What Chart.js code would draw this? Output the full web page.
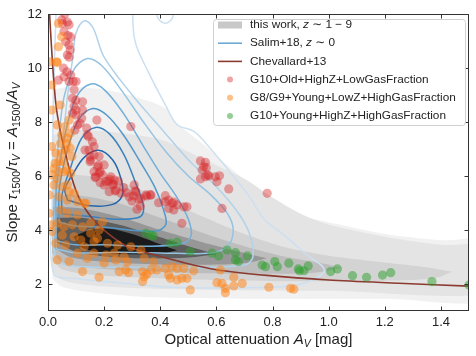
<!DOCTYPE html>
<html>
<head>
<meta charset="utf-8">
<script src="https://cdn.jsdelivr.net/npm/chart.js@4.4.1/dist/chart.umd.min.js"></script>
<style>
  html, body { margin: 0; padding: 0; background: #fff; }
</style>
</head>
<body>
<canvas id="myChart" width="476" height="356"></canvas>
<script>
// axis ticks
const xTicks = [0, 0.2, 0.4, 0.6, 0.8, 1.0, 1.2, 1.4];
const yTicks = [2, 4, 6, 8, 10, 12];

// "this work" density levels, outer -> inner (upper and lower edges)
const grayUpper = [
  [[0.015,9.2],[0.08,9.3],[0.2,9.2],[0.32,8.9],[0.42,8.5],[0.46,7.95],[0.55,7.2],[0.65,6.3],[0.79,5.1],[0.9,4.55],[1.04,4.2],[1.2,3.85],[1.4,3.62],[1.6,3.55]],
  [[0.015,7.5],[0.1,7.7],[0.25,7.6],[0.4,7.35],[0.5,6.9],[0.6,6.4],[0.7,5.9],[0.8,5.2],[0.9,4.6],[1.0,4.2],[1.2,3.75],[1.4,3.45],[1.6,3.35]],
  [[0.015,6.0],[0.1,6.05],[0.25,5.8],[0.4,5.2],[0.55,4.5],[0.7,3.85],[0.85,3.35],[1.0,3.05],[1.2,2.8],[1.35,2.62],[1.44,2.45]],
  [[0.015,5.3],[0.1,5.3],[0.25,5.0],[0.4,4.45],[0.55,3.9],[0.7,3.4],[0.85,3.0],[0.97,2.78],[1.05,2.6]],
  [[0.02,4.85],[0.12,4.8],[0.25,4.5],[0.4,4.0],[0.55,3.55],[0.68,3.2],[0.78,2.95]],
  [[0.03,4.45],[0.12,4.45],[0.25,4.2],[0.38,3.8],[0.5,3.4],[0.6,3.1]],
  [[0.09,3.75],[0.15,4.0],[0.22,4.05],[0.3,3.85],[0.38,3.55],[0.46,3.25]]
];
const grayLower = [
  [[0.015,2.2],[0.05,1.9],[0.15,1.7],[0.3,1.55],[0.5,1.48],[0.8,1.45],[1.2,1.45],[1.6,1.45]],
  [[0.015,2.5],[0.05,2.15],[0.15,1.95],[0.3,1.85],[0.6,1.78],[1.0,1.75],[1.6,1.72]],
  [[0.015,2.9],[0.05,2.55],[0.15,2.35],[0.3,2.25],[0.6,2.15],[0.9,2.1],[1.2,2.12],[1.38,2.22],[1.44,2.45]],
  [[0.015,3.15],[0.05,2.8],[0.15,2.6],[0.3,2.5],[0.55,2.4],[0.8,2.38],[0.95,2.42],[1.05,2.6]],
  [[0.02,3.35],[0.08,3.0],[0.2,2.82],[0.4,2.72],[0.6,2.72],[0.72,2.8],[0.78,2.95]],
  [[0.03,3.55],[0.1,3.2],[0.2,3.02],[0.35,2.95],[0.5,2.98],[0.6,3.1]],
  [[0.09,3.75],[0.12,3.35],[0.2,3.15],[0.3,3.1],[0.4,3.12],[0.46,3.25]]
];

// Salim+18 contours, outer -> inner (closed loops)
const salimContours = [
  [[0.03,12.5],[0.02,9],[0.015,5],[0.02,2.4],[0.1,2.2],[0.3,2.0],[0.4,1.9],[0.6,1.85],[0.78,1.88],[0.9,2.0],[0.985,2.5],[0.92,3.1],[0.83,3.9],[0.77,4.4],[0.72,5.2],[0.66,6.0],[0.58,7.0],[0.52,7.65],[0.46,7.9],[0.42,8.6],[0.36,9.8],[0.31,11],[0.3,12.5]],
  [[0.385,12.5],[0.39,11.9],[0.41,11.68],[0.43,11.7],[0.445,11.9],[0.45,12.5]],
  [[0.03,2.8],[0.02,3.5],[0.03,5],[0.05,7],[0.07,9],[0.09,10.5],[0.1,11.3],[0.13,11.75],[0.16,11.5],[0.2,10.4],[0.3,9.0],[0.4,7.8],[0.5,6.6],[0.6,5.6],[0.68,4.6],[0.72,3.8],[0.73,3.0],[0.7,2.7],[0.5,2.6],[0.3,2.62],[0.1,2.65],[0.03,2.8]],
  [[0.03,3.3],[0.025,5],[0.05,8.5],[0.09,9.9],[0.14,10.35],[0.19,10.1],[0.26,9.2],[0.34,8.0],[0.42,6.9],[0.5,6.0],[0.58,5.3],[0.64,4.6],[0.66,4.0],[0.64,3.4],[0.58,3.15],[0.4,3.15],[0.25,3.18],[0.1,3.15],[0.03,3.3]],
  [[0.03,3.6],[0.03,5.5],[0.06,7.5],[0.1,8.9],[0.15,9.4],[0.2,9.2],[0.27,8.3],[0.34,7.1],[0.4,6.1],[0.46,5.2],[0.5,4.4],[0.51,3.8],[0.48,3.5],[0.35,3.4],[0.2,3.45],[0.1,3.45],[0.03,3.6]],
  [[0.04,4.3],[0.04,5.5],[0.07,7.0],[0.11,8.1],[0.16,8.5],[0.21,8.25],[0.27,7.5],[0.33,6.5],[0.38,5.6],[0.41,4.8],[0.42,4.2],[0.38,3.95],[0.2,4.1],[0.1,4.15],[0.04,4.3]],
  [[0.05,4.6],[0.05,5.3],[0.08,6.3],[0.12,7.4],[0.17,7.8],[0.22,7.55],[0.27,6.8],[0.31,5.8],[0.34,4.9],[0.33,4.5],[0.25,4.4],[0.15,4.5],[0.05,4.6]],
  [[0.07,5.1],[0.06,5.5],[0.09,6.1],[0.13,6.7],[0.18,6.95],[0.23,6.6],[0.26,5.9],[0.265,5.3],[0.23,4.95],[0.15,4.9],[0.07,5.1]]
];

// Chevallard+13 relation
const chevX = [0.003,0.01,0.02,0.03,0.045,0.063,0.08,0.1,0.12,0.16,0.21,0.28,0.38,0.48,0.6,0.78,1.0,1.25,1.5];
const chevY = [12.5,11.2,9.6,8.5,7.6,6.8,6.1,5.45,5.0,4.4,3.9,3.4,3.08,2.8,2.53,2.32,2.15,2.03,1.92];

// galaxy samples [A_V, slope]
const oldHighZ = [
  [0.060,12.0],[0.069,11.7],[0.051,11.65],[0.075,11.6],[0.049,11.78],[0.057,11.35],[0.071,11.2],[0.081,11.15],
  [0.063,10.97],[0.075,10.85],[0.079,10.67],[0.069,10.48],[0.075,10.4],[0.055,10.0],[0.067,9.86],[0.081,9.74],
  [0.057,9.68],[0.037,9.55],[0.09,9.5],[0.075,9.5],[0.1,9.5],[0.093,9.19],[0.087,8.88],[0.099,8.81],[0.123,8.75],
  [0.093,8.58],[0.1,8.44],[0.087,8.32],[0.099,8.26],[0.123,8.44],[0.12,8.14],[0.114,7.95],[0.105,7.89],[0.096,7.7],
  [0.138,7.77],[0.174,8.07],[0.295,7.83],[0.14,7.52],[0.144,7.46],[0.158,7.27],[0.164,7.09],[0.132,6.96],[0.146,6.96],
  [0.164,6.78],[0.15,6.72],[0.182,6.72],[0.152,6.59],[0.15,6.53],[0.18,6.4],[0.2,6.41],[0.176,6.34],[0.186,6.16],
  [0.164,6.16],[0.182,6.1],[0.194,6.04],[0.17,5.97],[0.224,5.97],[0.168,5.94],[0.236,5.85],[0.22,5.88],[0.215,5.81],
  [0.251,5.81],[0.206,5.79],[0.186,5.75],[0.23,5.67],[0.2,5.67],[0.233,5.69],[0.269,5.57],[0.242,5.48],[0.218,5.42],
  [0.239,5.44],[0.26,5.36],[0.281,5.38],[0.307,5.67],[0.313,5.42],[0.311,5.44],[0.289,5.23],[0.305,5.26],[0.331,5.17],
  [0.349,5.3],[0.367,5.3],[0.352,5.26],[0.323,5.14],[0.299,5.07],[0.329,4.89],[0.317,4.77],
  [0.543,6.56],[0.561,6.51],[0.555,6.34],[0.564,6.31],[0.549,6.22],[0.569,6.04],[0.561,5.97],[0.543,5.89],
  [0.596,5.97],[0.611,6.01],[0.602,5.79],[0.573,6.0],[0.644,5.52],[0.781,5.36],
  [0.418,5.27],[0.43,5.11],[0.448,5.03],[0.364,5.3],[0.418,5.05],[0.442,4.99],[0.46,4.93],[0.484,4.86],
  [0.43,4.8],[0.448,4.74],[0.495,4.86],[0.62,4.8],[0.477,4.25],[0.394,5.01]
];
const youngLowZ = [
  [0.007,10.23],[0.031,10.23],[0.033,10.2],[0.037,11.65],[0.049,11.16],[0.037,10.79],[0.013,9.37],[0.013,8.44],
  [0.043,8.63],[0.079,7.58],[0.049,7.52],[0.061,7.83],[0.067,7.21],[0.013,7.09],[0.079,7.03],[0.049,6.84],[0.025,6.47],
  [0.055,6.53],[0.085,6.72],[0.067,6.22],[0.037,6.16],[0.013,6.04],
  [0.033,7.89],[0.075,8.07],[0.069,7.4],[0.045,7.21],[0.028,6.84],[0.063,6.96],[0.039,6.53],[0.021,6.28],[0.057,6.16],
  [0.081,6.1],[0.033,5.91],[0.021,5.67],[0.051,5.6],[0.069,5.67],[0.075,5.42],[0.004,5.3],[0.039,5.23],[0.069,5.11],
  [0.093,5.36],[0.105,5.05],[0.129,4.99],
  [0.004,4.62],[0.045,4.74],[0.069,4.62],[0.105,4.56],[0.135,4.99],[0.01,4.19],[0.033,4.25],[0.057,4.12],[0.087,4.19],
  [0.123,4.12],[0.152,4.25],[0.182,4.0],[0.194,4.31],[0.015,3.94],[0.051,3.81],[0.093,3.75],[0.152,3.88],[0.176,3.69],
  [0.117,3.63],[0.028,3.51],[0.063,3.44],[0.129,3.38],[0.164,3.57],[0.212,3.51],[0.248,3.44],[0.295,3.38],[0.236,3.14],
  [0.164,3.14],[0.105,3.14],[0.206,3.07],[0.271,3.01],[0.331,3.26],[0.343,2.95],[0.14,2.95],[0.033,2.89],[0.075,2.83],
  [0.2,2.77],[0.242,2.89],[0.283,2.83],[0.277,2.52],[0.254,2.46],[0.123,2.46],[0.182,2.25],[0.337,2.46],[0.343,2.27],
  [0.367,2.52],[0.337,2.09],[0.287,2.42],[0.352,2.36],
  [0.376,2.83],[0.388,2.52],[0.418,2.58],[0.43,2.33],[0.442,2.64],[0.46,2.58],[0.484,2.58],[0.46,2.15],[0.477,2.21],
  [0.436,2.21],[0.495,2.21],[0.519,2.49],[0.507,1.78],[0.602,2.05],[0.62,2.02],[0.614,2.52],[0.632,1.84],[0.632,1.68],
  [0.662,2.25],[0.662,1.93],[0.692,2.02],[0.787,1.88],[0.864,1.84],[0.876,1.81]
];
const youngHighZ = [
  [0.349,3.88],[0.367,3.81],[0.376,3.78],[0.436,3.51],[0.46,3.55],[0.507,3.2],[0.584,3.14],[0.608,3.04],[0.638,3.26],
  [0.668,3.16],[0.668,2.89],[0.679,2.83],[0.71,3.04],[0.763,2.7],[0.775,2.64],[0.808,2.83],[0.817,2.64],[0.858,2.77],
  [0.892,2.56],[0.896,2.49],[0.912,2.49],[0.927,2.67],[1.007,2.46],[1.031,2.56],[1.085,2.31],[1.135,2.25],[1.192,2.33],
  [1.221,2.42],[1.368,2.09],[1.5,1.96]
];

const legendLabels = [
  [{t: 'this work, '}, {t: 'z', it: true}, {t: ' \u223C 1 \u2212 9'}],
  [{t: 'Salim+18, '}, {t: 'z', it: true}, {t: ' \u223C 0'}],
  [{t: 'Chevallard+13'}],
  [{t: 'G10+Old+HighZ+LowGasFraction'}],
  [{t: 'G8/G9+Young+LowZ+HighGasFraction'}],
  [{t: 'G10+Young+HighZ+HighGasFraction'}]
];

const FONT = "'Liberation Sans', Arial, 'DejaVu Sans', sans-serif";
const grayColors = ['#f1f1f1', '#e4e4e4', '#d3d3d3', '#bdbdbd', '#979797', '#5e5e5e', '#1a1a1a'];
const blueColors = ['#cde0f1', '#cde0f1', '#b2d2ea', '#95c3e2', '#73afd9', '#5398cb', '#3a82bf', '#2466aa'];
const redC = 'rgba(214,39,40,0.42)';
const orangeC = 'rgba(255,127,14,0.5)';
const greenC = 'rgba(44,160,44,0.5)';
const brownC = '#8b3a2f';

const toXY = (arr) => arr.map(([x, y]) => ({x, y}));

const datasets = [];
oldHighZ.length;
datasets.push({label: 'G10+Old', data: toXY(oldHighZ), showLine: false, pointRadius: 4.6,
  pointBackgroundColor: redC, pointBorderWidth: 0, order: 3});
datasets.push({label: 'G8/G9', data: toXY(youngLowZ), showLine: false, pointRadius: 4.6,
  pointBackgroundColor: orangeC, pointBorderWidth: 0, order: 2});
datasets.push({label: 'G10+Young', data: toXY(youngHighZ), showLine: false, pointRadius: 4.6,
  pointBackgroundColor: greenC, pointBorderWidth: 0, order: 1});
datasets.push({label: 'Chevallard+13', data: chevX.map((x, i) => ({x, y: chevY[i]})), borderColor: brownC,
  borderWidth: 1.6, pointRadius: 0, fill: false, tension: 0.3, order: 10});
salimContours.forEach((c, i) => {
  datasets.push({label: 'Salim' + i, data: toXY(c), borderColor: blueColors[i], borderWidth: 1.5,
    pointRadius: 0, fill: false, tension: 0.35, order: 50 - i});
});
grayUpper.forEach((up, i) => {
  const loop = up.concat(grayLower[i].slice().reverse());
  datasets.push({label: 'gray' + i, data: toXY(loop), borderWidth: 0, borderColor: 'rgba(0,0,0,0)',
    backgroundColor: grayColors[i], pointRadius: 0, fill: 'shape', tension: 0.3, order: 100 - i});
});

function drawRich(ctx, parts, x, y, size, align) {
  const widths = parts.map(p => {
    const s = p.sub ? size * 0.7 : size;
    ctx.font = (p.it ? 'italic ' : '') + s + 'px ' + FONT;
    return ctx.measureText(p.t).width;
  });
  const total = widths.reduce((a, b) => a + b, 0);
  let cx = align === 'center' ? x - total / 2 : x;
  parts.forEach((p, i) => {
    const s = p.sub ? size * 0.7 : size;
    ctx.font = (p.it ? 'italic ' : '') + s + 'px ' + FONT;
    ctx.fillText(p.t, cx, y + (p.sub ? size * 0.28 : 0));
    cx += widths[i];
  });
}

const decorPlugin = {
  id: 'decor',
  afterDatasetsDraw(chart) {
    const {ctx, chartArea: a, scales: {x, y}} = chart;
    ctx.save();
    ctx.strokeStyle = '#333';
    ctx.lineWidth = 1;
    const L = Math.round(a.left) + 0.5, R = Math.round(a.right) - 0.5;
    const T = Math.round(a.top) + 0.5, B = Math.round(a.bottom) - 0.5;
    ctx.strokeRect(L, T, R - L, B - T);
    ctx.beginPath();
    xTicks.forEach(v => {
      const px = Math.round(x.getPixelForValue(v)) + 0.5;
      ctx.moveTo(px, B); ctx.lineTo(px, B - 4);
      ctx.moveTo(px, T); ctx.lineTo(px, T + 4);
    });
    yTicks.forEach(v => {
      const py = Math.round(y.getPixelForValue(v)) + 0.5;
      ctx.moveTo(L, py); ctx.lineTo(L + 4, py);
      ctx.moveTo(R, py); ctx.lineTo(R - 4, py);
    });
    ctx.stroke();
    ctx.restore();
  },
  afterDraw(chart) {
    const {ctx, chartArea: a} = chart;
    ctx.save();
    ctx.fillStyle = '#222';
    ctx.textBaseline = 'middle';
    // axis titles
    drawRich(ctx, [{t: 'Optical attenuation '}, {t: 'A', it: true}, {t: 'V', it: true, sub: true}, {t: ' [mag]'}],
      (a.left + a.right) / 2, 340, 15, 'center');
    ctx.save();
    ctx.translate(13, (a.top + a.bottom) / 2);
    ctx.rotate(-Math.PI / 2);
    drawRich(ctx, [{t: 'Slope '}, {t: '\u03C4', it: true}, {t: '1500', sub: true}, {t: '/'}, {t: '\u03C4', it: true},
      {t: 'V', it: true, sub: true}, {t: ' = '}, {t: 'A', it: true}, {t: '1500', sub: true}, {t: '/'},
      {t: 'A', it: true}, {t: 'V', it: true, sub: true}], 0, 0, 15, 'center');
    ctx.restore();

    // legend
    const bx = 213.5, by = 19.5, bw = 252, bh = 106;
    ctx.beginPath();
    ctx.roundRect(bx, by, bw, bh, 3);
    ctx.fillStyle = 'rgba(255,255,255,0.85)';
    ctx.fill();
    ctx.strokeStyle = '#d0d0d0';
    ctx.lineWidth = 1;
    ctx.stroke();
    legendLabels.forEach((parts, i) => {
      const ry = 25 + i * 18.2;
      if (i === 0) {
        ctx.fillStyle = '#c8c8c8';
        ctx.fillRect(218, ry - 3.5, 24, 7);
      } else if (i === 1 || i === 2) {
        ctx.strokeStyle = i === 1 ? '#6fa9d6' : brownC;
        ctx.lineWidth = 1.6;
        ctx.beginPath(); ctx.moveTo(218, ry); ctx.lineTo(242, ry); ctx.stroke();
      } else {
        ctx.fillStyle = [redC, orangeC, greenC][i - 3];
        ctx.beginPath(); ctx.arc(230, ry, 3, 0, Math.PI * 2); ctx.fill();
      }
      ctx.fillStyle = '#222';
      drawRich(ctx, parts, 250, ry, 11.8, 'left');
    });
    ctx.restore();
  }
};

new Chart(document.getElementById('myChart').getContext('2d'), {
  type: 'line',
  data: {datasets},
  options: {
    responsive: false,
    animation: false,
    events: [],
    layout: {padding: {top: 14, right: 7, left: 0, bottom: 0}},
    plugins: {legend: {display: false}, tooltip: {enabled: false}},
    scales: {
      x: {
        type: 'linear', min: 0, max: 1.5,
        afterBuildTicks: s => { s.ticks = xTicks.map(v => ({value: v})); },
        afterFit: s => { s.height = 45; },
        grid: {display: false, drawTicks: false},
        border: {display: false},
        ticks: {callback: v => Number(v).toFixed(1), font: {size: 13, family: FONT}, color: '#222',
          padding: 4, maxRotation: 0, autoSkip: false}
      },
      y: {
        type: 'linear', min: 1, max: 12,
        afterBuildTicks: s => { s.ticks = yTicks.map(v => ({value: v})); },
        afterFit: s => { s.width = 48; },
        grid: {display: false, drawTicks: false},
        border: {display: false},
        ticks: {font: {size: 13, family: FONT}, color: '#222', padding: 6, autoSkip: false}
      }
    }
  },
  plugins: [decorPlugin]
});
</script>
</body>
</html>
